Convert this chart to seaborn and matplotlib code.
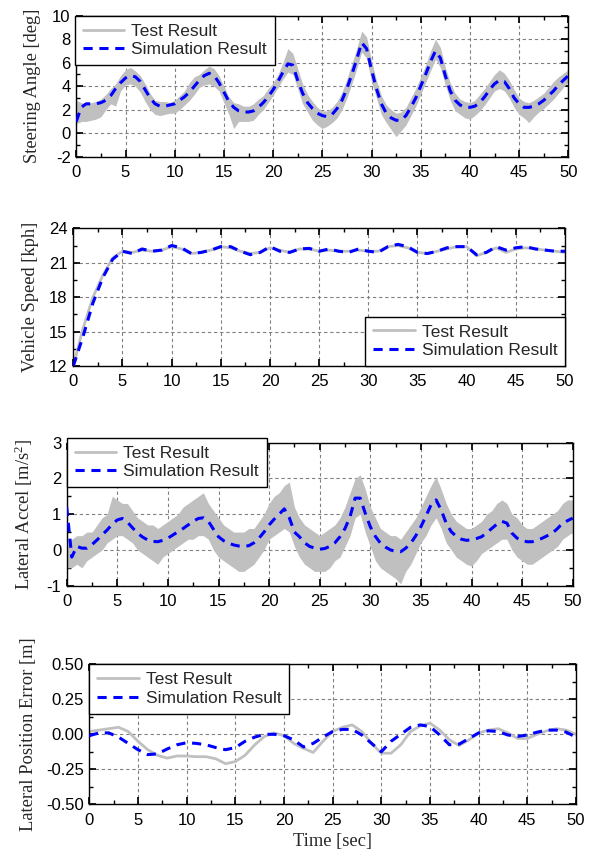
import numpy as np
import matplotlib
matplotlib.use('Agg')
import matplotlib.pyplot as plt
import seaborn as sns
from matplotlib.ticker import MultipleLocator, FormatStrFormatter

# time bases: 0.5 s for the noisy channels, 1 s for the smooth ones
t_fine = np.arange(0, 50.5, 0.5)
t_coarse = np.arange(0, 51, 1)

# steering angle [deg], 0.5 s samples
steer_sim = [1.0, 2.2, 2.5, 2.5, 2.5, 2.6, 2.8, 3.2, 3.8, 4.3,
             4.7, 4.9, 4.8, 4.4, 3.7, 3.0, 2.5, 2.3, 2.3, 2.4,
             2.5, 2.8, 3.1, 3.5, 4.0, 4.5, 4.9, 5.1, 4.9, 4.3,
             3.5, 2.7, 2.2, 1.9, 1.8, 1.8, 1.9, 2.2, 2.6, 3.1,
             3.7, 4.4, 5.2, 5.9, 5.8, 4.5, 3.4, 2.6, 2.1, 1.7,
             1.5, 1.4, 1.6, 2.1, 2.8, 3.8, 5.0, 6.3, 7.7, 7.2,
             5.4, 3.8, 2.5, 1.7, 1.3, 1.1, 1.1, 1.5, 2.2, 3.0,
             4.0, 5.0, 6.1, 7.0, 6.4, 4.9, 3.6, 2.8, 2.4, 2.2,
             2.2, 2.3, 2.6, 3.1, 3.7, 4.2, 4.5, 4.4, 3.8, 3.0,
             2.5, 2.2, 2.2, 2.3, 2.5, 2.8, 3.2, 3.6, 4.1, 4.5,
             4.9]
steer_test_hi = [2.8, 2.6, 2.5, 2.6, 2.7, 2.9, 3.3, 3.8, 4.2, 4.9,
                 5.4, 5.6, 5.3, 4.9, 4.2, 3.4, 2.8, 2.7, 2.7, 2.6,
                 2.8, 3.2, 3.6, 4.3, 4.8, 5.0, 5.4, 5.7, 5.5, 4.9,
                 4.0, 3.1, 2.6, 2.5, 2.3, 2.3, 2.5, 2.9, 3.2, 3.8,
                 4.3, 5.0, 6.0, 7.2, 6.8, 5.5, 4.2, 3.3, 2.7, 2.2,
                 1.9, 1.9, 2.2, 2.7, 3.5, 4.6, 5.9, 7.2, 8.7, 8.2,
                 6.2, 4.5, 3.2, 2.4, 2.0, 1.7, 1.8, 2.2, 3.0, 3.8,
                 4.8, 5.8, 7.0, 8.0, 7.3, 5.6, 4.3, 3.4, 2.9, 2.7,
                 2.6, 2.8, 3.3, 3.8, 4.4, 5.0, 5.4, 5.1, 4.5, 3.7,
                 3.0, 2.7, 2.6, 2.8, 3.1, 3.4, 3.9, 4.4, 4.8, 5.1,
                 5.4]
steer_test_lo = [0.8, 1.0, 1.0, 1.1, 1.2, 1.4, 2.0, 2.5, 2.3, 3.6,
                 4.1, 4.2, 4.0, 3.5, 2.7, 2.0, 1.6, 1.5, 1.6, 1.7,
                 1.7, 2.0, 2.4, 2.8, 3.3, 3.9, 4.1, 4.2, 4.0, 3.6,
                 2.6, 1.6, 0.4, 1.0, 1.0, 1.0, 1.1, 1.6, 2.0, 2.6,
                 3.2, 3.9, 4.6, 5.2, 5.0, 3.8, 2.5, 1.8, 1.1, 0.7,
                 0.4, 0.6, 0.9, 1.3, 2.0, 3.0, 4.2, 5.5, 6.9, 6.4,
                 4.4, 3.0, 1.6, 0.9, 0.3, -0.3, 0.2, 0.7, 1.5, 2.3,
                 3.3, 4.3, 5.3, 6.3, 5.6, 4.1, 2.8, 1.9, 1.6, 1.3,
                 1.2, 1.5, 1.9, 2.4, 3.0, 3.6, 3.8, 3.6, 3.0, 2.2,
                 1.6, 1.3, 0.9, 1.4, 1.8, 2.1, 2.5, 2.9, 3.4, 3.9,
                 4.4]

# vehicle speed [kph], 1 s samples
speed_sim = [12.0, 14.6, 17.5, 19.7, 21.3, 22.0, 21.8, 22.2, 22.0, 22.1,
             22.5, 22.3, 21.8, 21.9, 22.1, 22.4, 22.4, 22.0, 21.7, 21.9,
             22.4, 22.0, 21.9, 22.2, 22.25, 22.0, 22.2, 22.0, 21.9, 22.2,
             22.0, 21.9, 22.4, 22.6, 22.4, 21.9, 21.8, 22.0, 22.3, 22.4,
             22.4, 21.7, 21.9, 22.4, 22.1, 22.3, 22.4, 22.2, 22.1, 22.0,
             22.0]
speed_test = [12.0, 15.3, 18.0, 19.9, 21.4, 22.0, 21.9, 22.1, 22.0, 22.1,
              22.4, 22.2, 21.8, 21.9, 22.1, 22.4, 22.3, 22.0, 21.8, 21.9,
              22.3, 22.1, 21.9, 22.2, 22.2, 22.0, 22.1, 22.0, 22.0, 22.1,
              22.0, 22.0, 22.4, 22.5, 22.3, 21.9, 21.8, 22.0, 22.2, 22.4,
              22.4, 21.6, 21.9, 22.3, 21.9, 22.2, 22.3, 22.2, 22.1, 22.0,
              21.9]

# lateral acceleration [m/s^2], 0.5 s samples
accel_sim = [1.2, -0.2, 0.1, 0.05, 0.05, 0.15, 0.28, 0.42, 0.56, 0.72,
             0.84, 0.88, 0.78, 0.62, 0.47, 0.36, 0.28, 0.24, 0.23, 0.27,
             0.33, 0.42, 0.51, 0.6, 0.7, 0.8, 0.88, 0.9, 0.8, 0.58,
             0.37, 0.26, 0.19, 0.14, 0.11, 0.1, 0.12, 0.2, 0.33, 0.5,
             0.7, 0.86, 1.0, 1.15, 0.9, 0.5, 0.37, 0.2, 0.1, 0.05,
             0.02, 0.04, 0.1, 0.2, 0.37, 0.6, 0.93, 1.45, 1.45, 1.03,
             0.65, 0.38, 0.19, 0.08, 0.0, -0.04, -0.05, 0.05, 0.19, 0.4,
             0.65, 0.95, 1.26, 1.4, 1.12, 0.75, 0.51, 0.38, 0.3, 0.27,
             0.28, 0.32, 0.37, 0.48, 0.6, 0.72, 0.8, 0.75, 0.47, 0.33,
             0.26, 0.23, 0.23, 0.27, 0.33, 0.4, 0.47, 0.6, 0.75, 0.82,
             0.89]
accel_test_hi = [0.3, 0.3, 0.4, 0.4, 0.5, 0.5, 0.7, 0.9, 1.0, 1.5,
                 1.4, 1.3, 1.3, 1.1, 0.9, 0.8, 0.7, 0.7, 0.6, 0.7,
                 0.8, 0.9, 1.0, 1.2, 1.3, 1.4, 1.5, 1.6, 1.3, 1.1,
                 0.9, 0.7, 0.6, 0.5, 0.5, 0.5, 0.6, 0.6, 0.8, 1.0,
                 1.3, 1.5, 1.6, 1.8, 1.9, 1.2, 0.9, 0.7, 0.6, 0.5,
                 0.4, 0.5, 0.6, 0.7, 0.9, 1.2, 1.6, 2.0, 2.1, 1.7,
                 1.2, 0.9, 0.6, 0.5, 0.4, 0.4, 0.3, 0.5, 0.7, 0.9,
                 1.2, 1.5, 1.8, 2.05, 1.7, 1.3, 1.0, 0.8, 0.7, 0.6,
                 0.6, 0.7, 0.8, 1.0, 1.1, 1.3, 1.4, 1.3, 1.0, 0.9,
                 0.7, 0.6, 0.6, 0.7, 0.8, 0.9, 1.0, 1.1, 1.3, 1.4,
                 1.4]
accel_test_lo = [-0.5, -0.5, -0.4, -0.5, -0.3, -0.2, -0.1, 0.0, 0.2, 0.3,
                 0.4, 0.4, 0.3, 0.2, 0.0, -0.1, -0.2, -0.3, -0.4, -0.2,
                 -0.1, 0.0, 0.1, 0.2, 0.3, 0.3, 0.4, 0.4, 0.3, 0.0,
                 -0.2, -0.3, -0.4, -0.5, -0.6, -0.6, -0.5, -0.4, -0.2, 0.0,
                 0.3, 0.4, 0.5, 0.6, 0.5, 0.1, -0.2, -0.4, -0.5, -0.6,
                 -0.6, -0.6, -0.5, -0.3, -0.2, 0.1, 0.4, 0.9, 1.0, 0.5,
                 0.1, -0.3, -0.5, -0.6, -0.7, -0.8, -0.95, -0.6, -0.4, -0.1,
                 0.2, 0.4, 0.7, 0.9, 0.6, 0.2, 0.0, -0.2, -0.3, -0.4,
                 -0.45, -0.3, -0.1, 0.0, 0.1, 0.2, 0.3, 0.3, 0.0, -0.2,
                 -0.3, -0.4, -0.4, -0.3, -0.2, -0.1, 0.0, 0.1, 0.3, 0.4,
                 0.5]

# lateral position error [m], 1 s samples
poserr_sim = [-0.01, 0.01, 0.01, -0.02, -0.065, -0.11, -0.145, -0.14, -0.105, -0.075,
              -0.06, -0.065, -0.075, -0.095, -0.11, -0.095, -0.05, -0.02, 0.0, 0.0,
              -0.01, -0.04, -0.09, -0.065, -0.02, 0.02, 0.035, 0.035, -0.005, -0.065,
              -0.125, -0.05, 0.0, 0.05, 0.067, 0.055, -0.005, -0.075, -0.07, -0.03,
              0.01, 0.025, 0.02, -0.005, -0.015, -0.005, 0.015, 0.03, 0.03, 0.015,
              -0.02]
poserr_test = [0.02, 0.03, 0.04, 0.05, 0.02, -0.05, -0.11, -0.15, -0.17, -0.155,
               -0.155, -0.16, -0.16, -0.175, -0.21, -0.195, -0.15, -0.075, -0.015, 0.01,
               -0.01, -0.065, -0.1, -0.13, -0.05, 0.02, 0.05, 0.067, 0.02, -0.065,
               -0.135, -0.135, -0.075, 0.02, 0.06, 0.08, 0.03, -0.04, -0.08, -0.04,
               0.01, 0.03, 0.04, 0.01, -0.03, -0.03, 0.0, 0.025, 0.04, 0.03,
               0.0]

labels = ['Test Result', 'Simulation Result']
gray = '#c0c0c0'
blue = '#0000ff'

sns.set_theme(style='ticks')
plt.rcParams.update({
    'font.family': ['Liberation Sans', 'DejaVu Sans'],
    'axes.unicode_minus': False,
    'mathtext.fontset': 'custom',
    'mathtext.rm': 'Liberation Serif',
    'mathtext.it': 'Liberation Serif:italic',
    'xtick.direction': 'in', 'ytick.direction': 'in',
    'xtick.top': True, 'ytick.right': True,
    'xtick.major.size': 5, 'ytick.major.size': 5,
    'xtick.minor.size': 3, 'ytick.minor.size': 3,
    'xtick.labelsize': 12, 'ytick.labelsize': 12,
    'xtick.color': 'black', 'ytick.color': 'black',
    'axes.edgecolor': 'black', 'axes.linewidth': 1.0,
})
serif = {'family': 'Liberation Serif', 'size': 13.3}

fig = plt.figure(figsize=(5.94, 8.49), dpi=100)


def px_axes(left, top, right, bottom):
    return fig.add_axes([left / 594, 1 - bottom / 849, (right - left) / 594, (bottom - top) / 849])


def style(ax, ylim, ystep, ylabel, label_x, fmt=None):
    ax.set_xlim(0, 50)
    ax.set_ylim(*ylim)
    ax.xaxis.set_major_locator(MultipleLocator(5))
    ax.xaxis.set_minor_locator(MultipleLocator(2.5))
    ax.yaxis.set_major_locator(MultipleLocator(ystep))
    ax.yaxis.set_minor_locator(MultipleLocator(ystep / 2))
    if fmt:
        ax.yaxis.set_major_formatter(FormatStrFormatter(fmt))
    ax.tick_params(which='both', top=True, right=True)
    ax.tick_params(axis='x', pad=6)
    ax.tick_params(axis='y', pad=4)
    ax.grid(True, which='major', color='#808080', ls=(0, (3, 2.5)), lw=0.8)
    ax.set_axisbelow(True)
    ax.set_xlabel('')
    ax.set_ylabel(ylabel, fontdict=serif)
    ax.yaxis.set_label_coords(label_x, 0.5)


def add_legend(ax, loc, anchor):
    leg = ax.legend(loc=loc, bbox_to_anchor=anchor, fontsize=12.5, frameon=True, fancybox=False,
                    edgecolor='black', framealpha=1, borderaxespad=0, handlelength=2.4,
                    handletextpad=0.4, labelspacing=0.2, borderpad=0.45)
    leg.get_frame().set_linewidth(1.0)


def noisy_panel(ax, sim, hi, lo):
    hi = np.array(hi)
    lo = np.array(lo)
    ax.fill_between(t_fine, lo, hi, color=gray, lw=0, zorder=2)
    sns.lineplot(x=t_fine, y=(hi + lo) / 2, ax=ax, color=gray, lw=2.0, label=labels[0], zorder=2)
    sns.lineplot(x=t_fine, y=sim, ax=ax, color=blue, lw=2.2, ls=(0, (3, 2.2)), label=labels[1], zorder=3)


def smooth_panel(ax, sim, test):
    sns.lineplot(x=t_coarse, y=test, ax=ax, color=gray, lw=2.0, label=labels[0], zorder=2)
    sns.lineplot(x=t_coarse, y=sim, ax=ax, color=blue, lw=2.2, ls=(0, (3, 2.2)), label=labels[1], zorder=3)


ax1 = px_axes(76.3, 15.7, 568.3, 156.7)
noisy_panel(ax1, steer_sim, steer_test_hi, steer_test_lo)
style(ax1, (-2, 10), 2, 'Steering Angle [deg]', -0.072)
add_legend(ax1, 'upper left', (-0.003, 1.0))

ax2 = px_axes(73.3, 228.3, 565, 366)
smooth_panel(ax2, speed_sim, speed_test)
style(ax2, (12, 24), 3, 'Vehicle Speed [kph]', -0.069)
add_legend(ax2, 'lower right', (1.0, 0.0))

ax3 = px_axes(66.7, 442.7, 572.7, 585.7)
noisy_panel(ax3, accel_sim, accel_test_hi, accel_test_lo)
style(ax3, (-1, 3), 1, 'Lateral Accel [m/s$^2$]', -0.063)
add_legend(ax3, 'upper left', (0.0, 1.035))

ax4 = px_axes(89.3, 664.3, 576, 804.3)
smooth_panel(ax4, poserr_sim, poserr_test)
style(ax4, (-0.5, 0.5), 0.25, 'Lateral Position Error [m]', -0.107, fmt='%.2f')
ax4.set_xlabel('Time [sec]', fontdict=serif, labelpad=4)
add_legend(ax4, 'upper left', (0.0, 1.0))

fig.savefig('out.png', dpi=100)
